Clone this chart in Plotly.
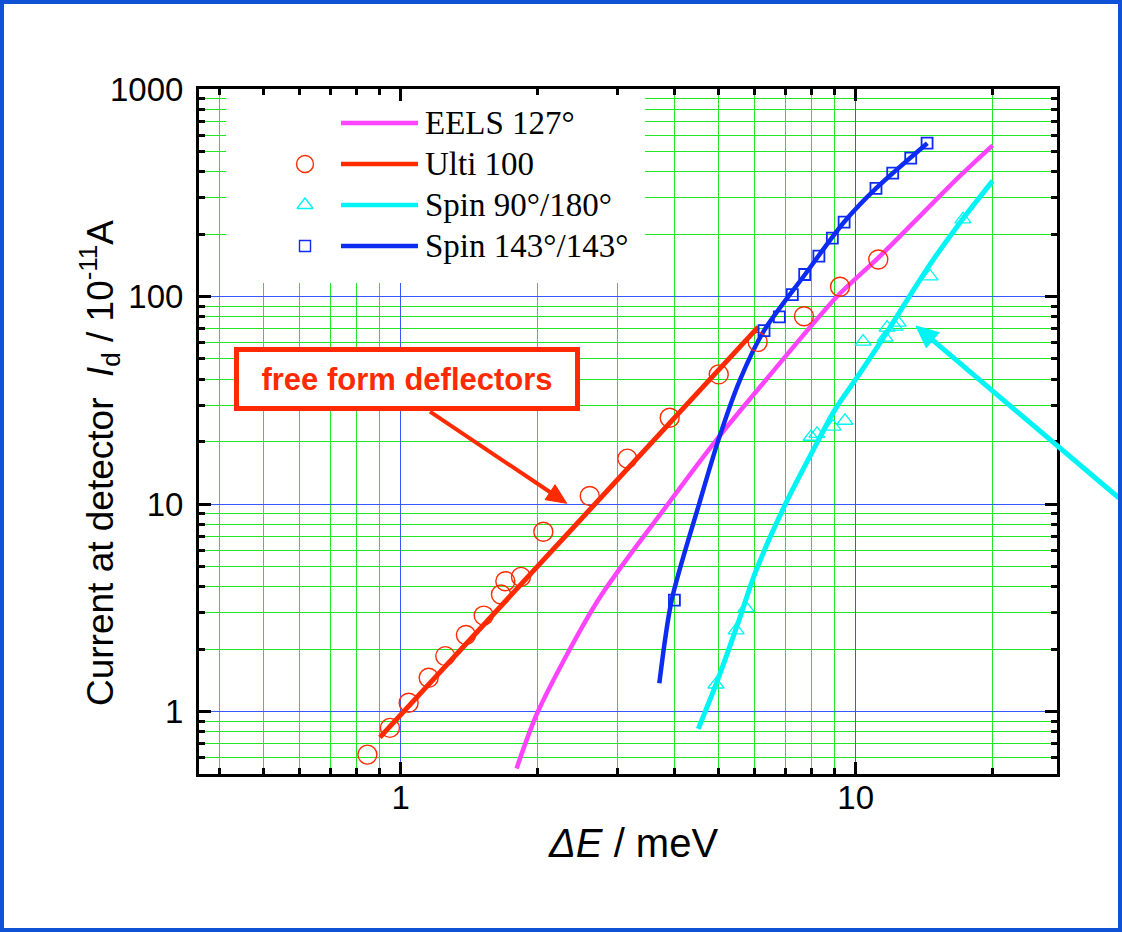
import math
import plotly.graph_objects as go

# ---------------- data (energy resolution dE in meV, detector current in 1e-11 A) ----------------
eels_E = [1.798, 2.003, 2.714, 3.868, 4.982, 6.352, 9.098, 11.31, 16.95, 20.0]
eels_I = [0.532, 1.000, 3.44, 10.0, 20.84, 39.7, 100.0, 156.5, 381.0, 535.0]

ulti_E = [0.845, 0.947, 1.041, 1.152, 1.253, 1.391, 1.522, 1.661, 1.698, 1.838,
          2.058, 2.603, 3.148, 3.901, 5.000, 6.089, 7.697, 9.237, 11.21]
ulti_I = [0.620, 0.834, 1.102, 1.455, 1.850, 2.337, 2.900, 3.663, 4.246, 4.456,
          7.35, 10.93, 16.55, 26.03, 42.13, 60.42, 80.3, 111.4, 150.9]
ulti_fit_E = [0.90, 6.11]
ulti_fit_I = [0.751, 71.4]

spin90_E = [4.93, 5.46, 5.74, 7.98, 8.22, 8.92, 9.47, 10.38, 11.6, 11.72, 12.2, 12.39, 14.57, 17.21]
spin90_I = [1.35, 2.46, 3.15, 21.1, 21.8, 23.6, 25.2, 60.6, 63.4, 70.8, 71.6, 74.9, 124.9, 235.5]
spin90_fit_E = [4.509, 4.949, 5.568, 6.006, 6.99, 8.07, 9.006, 10.05, 11.31, 14.57, 16.95, 20.0]
spin90_fit_I = [0.825, 1.381, 2.845, 4.63, 9.89, 18.24, 28.5, 40.5, 59.8, 142.8, 227.0, 360.6]

spin143_E = [3.995, 6.288, 6.795, 7.256, 7.725, 8.30, 8.885, 9.43, 11.08, 12.06, 13.21, 14.35]
spin143_I = [3.44, 68.5, 79.8, 102.2, 127.7, 156.5, 191.2, 228.5, 332.0, 393.0, 464.0, 548.0]
spin143_fit_E = [3.702, 3.940, 4.532, 5.007, 5.568, 6.288, 7.736, 9.43, 11.08, 14.37]
spin143_fit_I = [1.370, 3.44, 10.08, 20.77, 39.7, 68.5, 127.7, 228.5, 332.0, 548.0]

x_major = [1, 10]
x_major_text = ["1", "10"]
x_minor = [0.4, 0.5, 0.6, 0.7, 0.8, 0.9, 2, 3, 4, 5, 6, 7, 8, 9, 20]
y_major = [1, 10, 100, 1000]
y_major_text = ["1", "10", "100", "1000"]
y_minor = [0.6, 0.7, 0.8, 0.9, 2, 3, 4, 5, 6, 7, 8, 9,
           20, 30, 40, 50, 60, 70, 80, 90, 200, 300, 400, 500, 600, 700, 800, 900]

legend_labels = ["EELS 127°", "Ulti 100", "Spin 90°/180°", "Spin 143°/143°"]

# ---------------- styling ----------------
W, H = 1122, 932
L, R, T, B = 199, 1057, 89, 774          # plot-area edges in pixels

MAGENTA = "#ff44ff"
RED = "#ff2a00"
CYAN = "#00f4f4"
BLUE = "#0c2cf4"
GREEN = "#22e622"
GRIDBLUE = "#3558ff"
FRAME = "#1052d6"
SANS = "Liberation Sans, Arial, sans-serif"
SERIF = "Liberation Serif, Times New Roman, serif"


def paper_x(px):
    return (px - L) / (R - L)


def paper_y(py):
    return (B - py) / (B - T)


def add_arrow(fig, tail, tip, color, width, head_len, head_half):
    """Straight arrow in pixel space: shaft line plus a filled triangular head."""
    dx, dy = tip[0] - tail[0], tip[1] - tail[1]
    n = math.hypot(dx, dy)
    ux, uy = dx / n, dy / n
    bx, by = tip[0] - head_len * ux, tip[1] - head_len * uy
    px_, py_ = -uy, ux
    fig.add_shape(type="line", xref="paper", yref="paper",
                  x0=paper_x(tail[0]), y0=paper_y(tail[1]),
                  x1=paper_x(bx + ux * 2), y1=paper_y(by + uy * 2),
                  line=dict(color=color, width=width), layer="above")
    pts = [tip, (bx + head_half * px_, by + head_half * py_), (bx - head_half * px_, by - head_half * py_)]
    path = "M {} {} L {} {} L {} {} Z".format(*[v for p in pts for v in (paper_x(p[0]), paper_y(p[1]))])
    fig.add_shape(type="path", xref="paper", yref="paper", path=path,
                  fillcolor=color, line=dict(color=color, width=1), layer="above")


fig = go.Figure()

# curves
fig.add_trace(go.Scatter(x=eels_E, y=eels_I, mode="lines",
                         line=dict(color=MAGENTA, width=4.5, shape="spline", smoothing=0.8)))
fig.add_trace(go.Scatter(x=spin90_fit_E, y=spin90_fit_I, mode="lines",
                         line=dict(color=CYAN, width=5, shape="spline", smoothing=0.8)))
fig.add_trace(go.Scatter(x=ulti_fit_E, y=ulti_fit_I, mode="lines",
                         line=dict(color=RED, width=5)))
fig.add_trace(go.Scatter(x=spin143_fit_E, y=spin143_fit_I, mode="lines",
                         line=dict(color=BLUE, width=4.5, shape="spline", smoothing=0.8)))

# measured points
fig.add_trace(go.Scatter(x=ulti_E, y=ulti_I, mode="markers",
                         marker=dict(symbol="circle-open", size=19, color=RED,
                                     line=dict(width=1.4, color=RED))))
fig.add_trace(go.Scatter(x=spin90_E, y=spin90_I, mode="markers",
                         marker=dict(symbol="triangle-up-open", size=14, color=CYAN,
                                     line=dict(width=1.3, color=CYAN))))
fig.add_trace(go.Scatter(x=spin143_E, y=spin143_I, mode="markers",
                         marker=dict(symbol="square-open", size=11, color=BLUE,
                                     line=dict(width=1.8, color=BLUE))))

# ---------------- key (drawn on a pixel-scaled overlay) ----------------
box_x0, box_x1, box_y0, box_y1 = 226, 645, 95, 283
fig.add_trace(go.Scatter(x=[box_x0, box_x1, box_x1, box_x0, box_x0],
                         y=[box_y0, box_y0, box_y1, box_y1, box_y0],
                         mode="lines", fill="toself", fillcolor="white",
                         line=dict(width=0, color="white"),
                         xaxis="x3", yaxis="y3", hoverinfo="skip"))

row_y = [123, 164, 205, 246]
row_color = [MAGENTA, RED, CYAN, BLUE]
row_symbol = [None, "circle-open", "triangle-up-open", "square-open"]
row_size = [0, 17, 14, 11]
for yy, col, sym, sz, lab in zip(row_y, row_color, row_symbol, row_size, legend_labels):
    fig.add_trace(go.Scatter(x=[341, 418], y=[yy, yy], mode="lines",
                             line=dict(color=col, width=4.5),
                             xaxis="x3", yaxis="y3", hoverinfo="skip"))
    if sym:
        fig.add_trace(go.Scatter(x=[305], y=[yy], mode="markers",
                                 marker=dict(symbol=sym, size=sz, color=col,
                                             line=dict(width=1.4, color=col)),
                                 xaxis="x3", yaxis="y3", hoverinfo="skip"))
    fig.add_annotation(x=423, y=yy, xref="x3", yref="y3", text=lab, showarrow=False,
                       xanchor="left", yanchor="middle",
                       font=dict(family=SERIF, size=33, color="black"))

# callout box and arrows
fig.add_annotation(x=407.4, y=379.2, xref="x3", yref="y3",
                   text="<b>free form deflectors</b>", showarrow=False,
                   font=dict(family=SANS, size=31, color=RED),
                   bgcolor="white", bordercolor=RED, borderwidth=5, borderpad=2,
                   width=332, height=50, xanchor="center", yanchor="middle")
add_arrow(fig, (430, 411.7), (566.7, 503.3), RED, 4, 20, 9)
add_arrow(fig, (1119, 498), (916, 326), CYAN, 5, 22, 10)

# axis titles
fig.add_annotation(x=paper_x(100), y=paper_y(463), xref="paper", yref="paper",
                   text="Current at detector  <i>I</i><sub>d</sub> / 10<sup>-11</sup>A",
                   textangle=-90, showarrow=False, xanchor="center", yanchor="middle",
                   font=dict(family=SANS, size=37, color="black"))
fig.add_annotation(x=paper_x(633), y=paper_y(843), xref="paper", yref="paper",
                   text="<i>ΔE</i> / meV", showarrow=False,
                   xanchor="center", yanchor="middle",
                   font=dict(family=SANS, size=40, color="black"))

# outer frame
fig.add_shape(type="rect", xref="paper", yref="paper",
              x0=paper_x(2), x1=paper_x(1120), y0=paper_y(930), y1=paper_y(2),
              line=dict(color=FRAME, width=4), fillcolor="rgba(0,0,0,0)", layer="above")

axis_common = dict(
    type="log", showline=True, linecolor="black", linewidth=3, mirror="ticks",
    ticks="inside", ticklen=12, tickwidth=2.5, tickcolor="black",
    showgrid=True, gridcolor=GRIDBLUE, gridwidth=1.3, zeroline=False,
    tickfont=dict(family=SANS, size=33, color="black"), tickmode="array",
)

fig.update_layout(
    width=W, height=H,
    margin=dict(l=L, r=W - R, t=T, b=H - B),
    paper_bgcolor="white", plot_bgcolor="white",
    showlegend=False,
    xaxis=dict(axis_common, range=[-0.4433, 1.4424], tickvals=x_major, ticktext=x_major_text,
               ticklabelstandoff=-8,
               minor=dict(tickmode="array", tickvals=x_minor, ticks="inside", ticklen=6,
                          tickwidth=2.5, tickcolor="black", showgrid=True,
                          gridcolor=GREEN, gridwidth=1.3)),
    yaxis=dict(axis_common, range=[-0.30103, 3], tickvals=y_major, ticktext=y_major_text,
               ticklabelstandoff=6,
               minor=dict(tickmode="array", tickvals=y_minor, ticks="inside", ticklen=6,
                          tickwidth=2.5, tickcolor="black", showgrid=True,
                          gridcolor=GREEN, gridwidth=1.3)),
    xaxis3=dict(overlaying="x", anchor="y3", range=[L, R], visible=False, fixedrange=True),
    yaxis3=dict(overlaying="y", anchor="x3", range=[B, T], visible=False, fixedrange=True),
)

fig.write_html("out.html")
